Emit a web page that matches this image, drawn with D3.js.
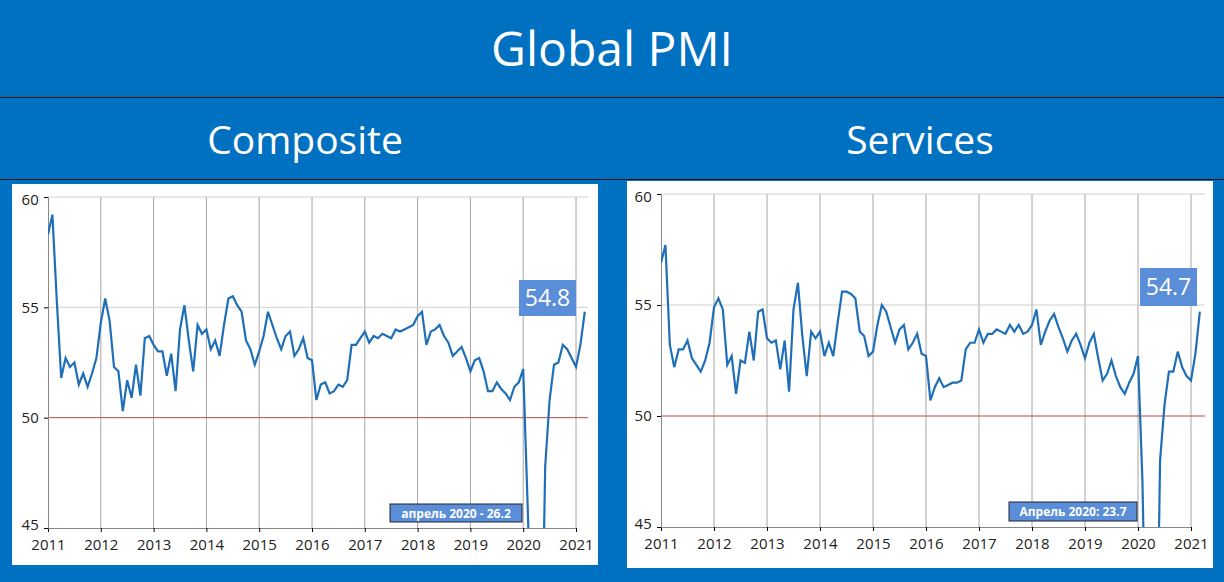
<!DOCTYPE html>
<html><head><meta charset="utf-8">
<script src="https://cdn.jsdelivr.net/npm/d3@7"></script>
<style>body{margin:0;background:#0070C0;}svg{display:block;font-family:"Open Sans","Noto Sans",sans-serif;}</style>
</head><body><svg id="c" width="1224" height="582"></svg>
<script>
const yearTicks = [2011,2012,2013,2014,2015,2016,2017,2018,2019,2020,2021];
const yTicks = [45,50,55,60];
const composite = [
58.3,59.2,55.3,51.8,52.7,52.3,52.5,51.5,52.0,51.4,52.0,52.7,
54.3,55.4,54.4,52.3,52.1,50.3,51.7,50.9,52.4,51.0,53.6,53.7,
53.3,53.0,53.0,51.9,52.9,51.2,54.0,55.1,53.5,52.1,54.2,53.8,
54.0,53.1,53.5,52.8,54.2,55.4,55.5,55.1,54.8,53.5,53.1,52.4,
53.0,53.7,54.8,54.2,53.6,53.1,53.7,53.9,52.8,53.1,53.6,52.7,
52.6,50.8,51.5,51.6,51.1,51.2,51.5,51.4,51.7,53.3,53.3,53.6,
53.9,53.4,53.7,53.6,53.8,53.7,53.6,54.0,53.9,54.0,54.1,54.2,
54.6,54.8,53.3,53.9,54.0,54.2,53.7,53.4,52.8,53.0,53.2,52.7,
52.1,52.6,52.7,52.1,51.2,51.2,51.6,51.3,51.1,50.8,51.4,51.6,
52.2,46.1,39.4,26.2,36.3,47.8,50.8,52.4,52.5,53.3,53.1,52.7,
52.3,53.3,54.8];
const services = [
56.9,57.7,53.2,52.2,53.0,53.0,53.4,52.6,52.3,52.0,52.5,53.3,
54.9,55.3,54.8,52.3,52.7,51.0,52.5,52.4,53.8,52.5,54.7,54.8,
53.5,53.3,53.4,52.1,53.4,51.1,54.8,56.0,53.6,51.8,53.8,53.5,
53.8,52.7,53.3,52.7,54.2,55.6,55.6,55.5,55.3,53.8,53.6,52.7,
52.9,54.1,55.0,54.7,54.0,53.3,53.9,54.1,53.0,53.3,53.7,52.8,
52.7,50.7,51.3,51.7,51.3,51.4,51.5,51.5,51.6,53.0,53.3,53.3,
53.9,53.3,53.7,53.7,53.9,53.8,53.7,54.1,53.8,54.1,53.7,53.8,
54.1,54.8,53.2,53.8,54.3,54.6,54.0,53.5,52.9,53.4,53.7,53.2,
52.6,53.3,53.7,52.6,51.6,51.9,52.5,51.8,51.3,51.0,51.5,51.9,
52.7,47.1,37.0,23.7,35.0,48.0,50.5,52.0,52.0,52.9,52.2,51.8,
51.6,52.8,54.7];
const titles = ["Global PMI","Composite","Services"];
const latestLabels = ["54.8","54.7"];
const notes = ["апрель 2020 - 26.2","Апрель 2020: 23.7"];

const svg = d3.select("#c");
svg.append("text").attr("x",612).attr("y",66).attr("text-anchor","middle").attr("fill","#fff").attr("font-size",48).text(titles[0]);
svg.append("line").attr("x1",0).attr("x2",1224).attr("y1",97.5).attr("y2",97.5).attr("stroke","#111").attr("stroke-width",1.2);
svg.append("line").attr("x1",0).attr("x2",1224).attr("y1",179.5).attr("y2",179.5).attr("stroke","#111").attr("stroke-width",1.2);
svg.append("text").attr("x",305).attr("y",154).attr("text-anchor","middle").attr("fill","#fff").attr("font-size",39).text(titles[1]);
svg.append("text").attr("x",920).attr("y",154).attr("text-anchor","middle").attr("fill","#fff").attr("font-size",39).text(titles[2]);

function panel(id, box, x0, x1, yTop, yBot, right, data, label, lbox, note, nbox){
  const g = svg.append("g");
  g.append("rect").attr("x",box[0]).attr("y",box[1]).attr("width",box[2]).attr("height",box[3]).attr("fill","#fff");
  const x = d3.scaleLinear().domain([2011,2021]).range([x0,x1]);
  const y = d3.scaleLinear().domain([45,60]).range([yBot,yTop]);
  g.selectAll(".vg").data(yearTicks.slice(1)).join("line").attr("x1",d=>x(d)).attr("x2",d=>x(d)).attr("y1",yTop).attr("y2",yBot).attr("stroke","#a6a6a6");
  g.selectAll(".hg").data([55,60]).join("line").attr("x1",x0).attr("x2",right).attr("y1",d=>y(d)).attr("y2",d=>y(d)).attr("stroke","#d0d0d0");
  g.append("line").attr("x1",x0).attr("x2",right).attr("y1",y(50)).attr("y2",y(50)).attr("stroke","#c04545").attr("stroke-width",1);
  const ax = g.append("g").attr("transform",`translate(0,${yBot})`).call(d3.axisBottom(x).tickValues(yearTicks).tickFormat(d3.format("d")).tickSize(4));
  ax.attr("font-family","Open Sans, sans-serif").attr("font-size",15);
  ax.select(".domain").attr("stroke","#888");
  ax.selectAll("text").attr("fill","#222").attr("dy","1.0em");
  const ay = g.append("g").attr("transform",`translate(${x0},0)`).call(d3.axisLeft(y).tickValues(yTicks).tickSize(4));
  ay.attr("font-family","Open Sans, sans-serif").attr("font-size",15);
  ay.select(".domain").attr("stroke","#888");
  ay.selectAll("text").attr("fill","#222").attr("dx","-0.15em").attr("dy",d=>d===45?"0.1em":(d===60?"0.5em":"0.32em"));
  g.append("clipPath").attr("id",id).append("rect").attr("x",x0).attr("y",yTop-5).attr("width",right-x0).attr("height",yBot-yTop+5);
  g.append("path").datum(data).attr("clip-path",`url(#${id})`).attr("fill","none").attr("stroke","#1f6fb8").attr("stroke-width",2.2)
    .attr("d",d3.line().x((d,i)=>x(2011+i/12)).y(d=>y(d)));
  g.append("rect").attr("x",lbox[0]).attr("y",lbox[1]).attr("width",lbox[2]).attr("height",lbox[3]).attr("fill","#5b8ed8");
  g.append("text").attr("x",lbox[0]+lbox[2]/2).attr("y",lbox[1]+lbox[3]/2+8).attr("text-anchor","middle").attr("fill","#fff").attr("font-size",23).text(label);
  g.append("rect").attr("x",nbox[0]).attr("y",nbox[1]).attr("width",nbox[2]).attr("height",nbox[3]).attr("fill","#5b8ed8").attr("stroke","#223").attr("stroke-width",1);
  g.append("text").attr("x",nbox[0]+nbox[2]/2).attr("y",nbox[1]+nbox[3]/2+4.5).attr("text-anchor","middle").attr("fill","#fff").attr("font-size",12).attr("font-weight","bold").text(note);
}
panel("cl1",[12,184,586,381],48,576,197,528,588,composite,latestLabels[0],[519,280,57,36],notes[0],[390,504,132,18]);
panel("cl2",[627,181,586,387],661,1191,194,527,1205,services,latestLabels[1],[1140,268,57,38],notes[1],[1009,502,128,19]);
</script></body></html>
